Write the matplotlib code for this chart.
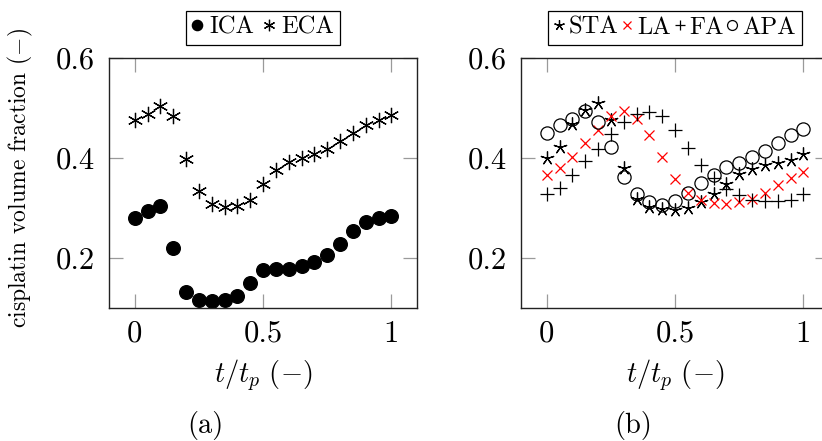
import matplotlib
matplotlib.use("Agg")
import matplotlib.pyplot as plt
from matplotlib.ticker import FixedLocator, FuncFormatter

plt.rcParams.update({
    "font.family": "serif",
    "font.serif": ["cmr10"],
    "mathtext.fontset": "cm",
    "axes.formatter.use_mathtext": True,
    "font.size": 19,
})

# normalised time t/t_p
t = [0.00, 0.05, 0.10, 0.15, 0.20, 0.25, 0.30, 0.35, 0.40, 0.45, 0.50,
     0.55, 0.60, 0.65, 0.70, 0.75, 0.80, 0.85, 0.90, 0.95, 1.00]

# panel (a): internal / external carotid
ica = [0.281, 0.294, 0.304, 0.221, 0.133, 0.117, 0.115, 0.117, 0.125, 0.151, 0.177,
       0.179, 0.179, 0.185, 0.193, 0.206, 0.228, 0.254, 0.272, 0.281, 0.284]
eca = [0.477, 0.488, 0.504, 0.485, 0.399, 0.334, 0.309, 0.303, 0.304, 0.316, 0.348,
       0.377, 0.392, 0.401, 0.409, 0.419, 0.435, 0.451, 0.466, 0.477, 0.486]

# panel (b): ECA branches
sta = [0.401, 0.423, 0.468, 0.497, 0.511, 0.477, 0.380, 0.319, 0.303, 0.298, 0.297,
       0.301, 0.313, 0.329, 0.348, 0.368, 0.379, 0.387, 0.391, 0.396, 0.408]
la = [0.366, 0.381, 0.403, 0.431, 0.457, 0.484, 0.494, 0.479, 0.447, 0.403, 0.358,
      0.331, 0.316, 0.311, 0.308, 0.312, 0.318, 0.331, 0.346, 0.361, 0.373]
fa = [0.329, 0.341, 0.367, 0.395, 0.419, 0.448, 0.472, 0.488, 0.492, 0.484, 0.457,
      0.421, 0.387, 0.361, 0.338, 0.326, 0.316, 0.315, 0.315, 0.317, 0.328]
apa = [0.451, 0.466, 0.479, 0.494, 0.472, 0.423, 0.362, 0.328, 0.313, 0.307, 0.314,
       0.331, 0.351, 0.367, 0.383, 0.391, 0.403, 0.415, 0.431, 0.446, 0.459]

xticks = [0, 0.5, 1]
yticks = [0.2, 0.4, 0.6]

W, H = 822, 441
fig = plt.figure(figsize=(W / 100, H / 100), dpi=100)

def px_axes(left, top, right, bottom):
    return fig.add_axes([left / W, 1 - bottom / H, (right - left) / W, (bottom - top) / H])

ax_a = px_axes(109, 58, 417, 308)
ax_b = px_axes(521, 58, 829, 308)

def fmt(v, _):
    return "%g" % v

for ax in (ax_a, ax_b):
    ax.set_xlim(-0.1, 1.1)
    ax.set_ylim(0.1, 0.6)
    ax.xaxis.set_major_locator(FixedLocator(xticks))
    ax.yaxis.set_major_locator(FixedLocator(yticks))
    ax.xaxis.set_major_formatter(FuncFormatter(fmt))
    ax.yaxis.set_major_formatter(FuncFormatter(fmt))
    ax.tick_params(direction="in", length=10, width=0.9, color="#9a9a9a",
                   top=True, right=True, labelsize=22)
    ax.tick_params(axis="x", pad=9)
    ax.tick_params(axis="y", pad=10)
    for s in ax.spines.values():
        s.set_linewidth(1.0)
        s.set_color("#222222")
    ax.set_xlabel(r"$t/t_p\ (-)$", fontsize=20.5)
    ax.xaxis.set_label_coords(0.5, -(375 - 308) / 250, transform=ax.transAxes)
    ax.xaxis.label.set_va("center")

ax_a.set_ylabel(r"cisplatin volume fraction $(-)$", fontsize=17)
ax_a.yaxis.set_label_coords(-(109 - 20) / 308, 0.52, transform=ax_a.transAxes)
ax_a.yaxis.label.set_va("center")

# panel (a)
ax_a.plot(t, ica, linestyle="none", marker="o", markersize=9.8, color="black",
          label="ICA")
ax_a.plot(t, eca, linestyle="none", marker=(6, 2, 0), markersize=11,
          markeredgewidth=0.9, color="black", label="ECA")

# panel (b)
ax_b.plot(t, sta, linestyle="none", marker=(5, 2, 0), markersize=10,
          markeredgewidth=0.9, color="black", label="STA")
ax_b.plot(t, la, linestyle="none", marker="x", markersize=7.5,
          markeredgewidth=0.9, color="red", label="LA")
ax_b.plot(t, fa, linestyle="none", marker="+", markersize=9.5,
          markeredgewidth=0.9, color="black", label="FA")
ax_b.plot(t, apa, linestyle="none", marker="o", markersize=9.5,
          markeredgewidth=0.9, markerfacecolor="none", color="black", label="APA")

legend_spacing = {ax_a: (0.3, 0.4), ax_b: (0.2, 0.15)}
for ax in (ax_a, ax_b):
    textpad, colspace = legend_spacing[ax]
    leg = ax.legend(loc="lower center", bbox_to_anchor=(0.5, (58 - 45) / 250 + 1),
                    borderaxespad=0, ncol=4,
                    frameon=True, fancybox=False, framealpha=1, edgecolor="black",
                    handlelength=0.4, handletextpad=textpad, columnspacing=colspace,
                    borderpad=0.25, markerscale=0.75, fontsize=17.7)
    leg.get_frame().set_linewidth(0.9)

fig.text(205 / W, 1 - 425 / H, "(a)", ha="center", va="center", fontsize=20.5)
fig.text(633 / W, 1 - 425 / H, "(b)", ha="center", va="center", fontsize=20.5)

fig.savefig("out.png", dpi=100)
